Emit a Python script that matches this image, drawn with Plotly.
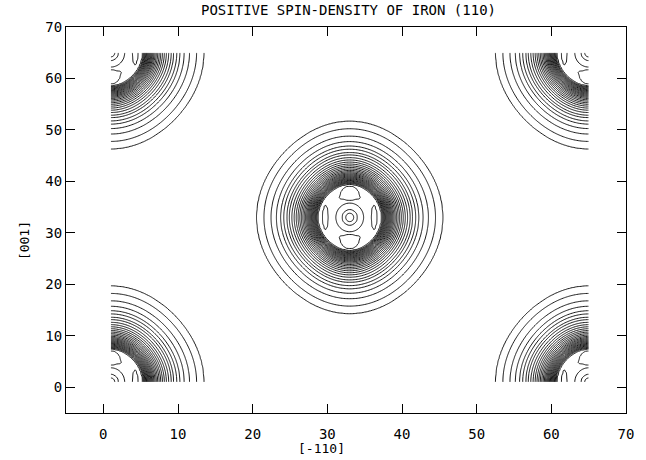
import numpy as np
import plotly.graph_objects as go

# ---- data ----
# Fe atom sites in the (110) map, in grid units ([-110], [001])
atom_x = [1, 65, 1, 65, 33]
atom_y = [1, 1, 65, 65, 33]
grid_lo, grid_hi, grid_step = 1, 65, 0.2
y_stretch = 1.5          # [001] units per [-110] unit for equal density

# radii of the main contour rings (in [-110] units), outermost first
ring_radii = [12.3, 11.35, 10.4, 9.7, 9.13, 8.73, 8.3, 8.0, 7.65, 7.35,
              7.08, 6.83, 6.6, 6.4, 6.2, 6.02, 5.85, 5.7, 5.56, 5.43,
              5.3, 5.18, 5.06, 4.95, 4.84, 4.73, 4.62, 4.52, 4.42, 4.32, 4.22]
ring_squareness = 0.012

# central peak: radii of its three small rings (innermost first)
core_radii = [0.55, 1.0, 1.85]
# half-moon maxima above/below the atom: base distance, height, half width
moon_base, moon_height, moon_halfwidth = 2.5, 1.6, 1.4
# lens maxima left/right of the atom: distance, half width, half height
lens_dist, lens_halfwidth, lens_halfheight = 3.25, 0.42, 1.6

x_ticks = [0, 10, 20, 30, 40, 50, 60, 70]
y_ticks = [0, 10, 20, 30, 40, 50, 60, 70]
title_text = "POSITIVE SPIN-DENSITY OF IRON (110)"
x_title = "[-110]"
y_title = "[001]"

# ---- build the density field ----
gx = np.arange(grid_lo, grid_hi + 1e-9, grid_step)
gy = np.arange(grid_lo, grid_hi + 1e-9, grid_step)
X, Y = np.meshgrid(gx, gy)

n_ring = len(ring_radii)
plateau = n_ring + 0.5
r_knots = [0.0, 4.0] + ring_radii[::-1] + [14.5]
v_knots = [plateau, plateau] + list(range(n_ring, 0, -1)) + [0.0]


def bump(h):
    return np.where(h >= 0, 0.5 + 0.5 * h, np.clip(0.5 + 2.0 * h, 0, None))


Z = np.zeros_like(X)
for ax_, ay_ in zip(atom_x, atom_y):
    dx = X - ax_
    dy = (Y - ay_) / y_stretch
    r = np.sqrt(dx ** 2 + dy ** 2)
    rs = np.maximum(r, 1e-9)
    c4 = np.where(r > 0, (dx ** 4 - 6 * dx ** 2 * dy ** 2 + dy ** 4) / rs ** 4, 1.0)
    rb = r * (1 - ring_squareness * c4)
    f = np.interp(rb, r_knots, v_knots)
    # central peak
    f = f + np.interp(r, [0.0] + core_radii + [2.4], [3.3, 2.5, 1.5, 0.5, 0.0])
    # half-moons
    for s in (1, -1):
        v = s * dy
        h = np.where(v >= moon_base,
                     1 - (dx / moon_halfwidth) ** 2 - ((v - moon_base) / moon_height) ** 2,
                     1 - (dx / moon_halfwidth) ** 2 - ((moon_base - v) / 0.25) ** 2)
        f = f + bump(h)
    # lenses
    for s in (1, -1):
        h = 1 - ((dx - s * lens_dist) / lens_halfwidth) ** 2 - (dy / lens_halfheight) ** 2
        f = f + bump(h)
    Z = Z + f

Z = np.round(Z, 3)

font_fam = "DejaVu Sans Mono, Liberation Mono, monospace"

fig = go.Figure()
fig.add_trace(go.Contour(
    x=gx, y=gy, z=Z,
    contours=dict(start=1, end=n_ring + 3, size=1, coloring="lines", showlabels=False),
    colorscale=[[0, "black"], [1, "black"]],
    showscale=False,
    line=dict(width=0.9, color="black"),
    hoverinfo="skip",
))

axis_common = dict(
    ticks="inside", ticklen=9, tickwidth=1, tickcolor="black",
    showline=True, linecolor="black", linewidth=1, mirror="ticks",
    showgrid=False, zeroline=False,
    tickfont=dict(family=font_fam, size=14, color="black"),
)
fig.update_xaxes(range=[-5, 70], tickvals=x_ticks, ticktext=[str(t) for t in x_ticks],
                 ticklabelstandoff=8, **axis_common)
fig.update_yaxes(range=[-5, 70], tickvals=y_ticks, ticktext=[str(t) for t in y_ticks],
                 ticklabelstandoff=0, **axis_common)

fig.add_annotation(text=title_text, xref="paper", yref="paper", x=0.505, y=1.045,
                   xanchor="center", yanchor="middle", showarrow=False,
                   font=dict(family=font_fam, size=14, color="black"))
fig.add_annotation(text=x_title, xref="paper", yref="paper", x=0.4555, y=-0.093,
                   xanchor="center", yanchor="middle", showarrow=False,
                   font=dict(family=font_fam, size=13, color="black"))
fig.add_annotation(text=y_title, xref="paper", yref="paper", x=-0.073, y=0.4456,
                   xanchor="center", yanchor="middle", textangle=-90, showarrow=False,
                   font=dict(family=font_fam, size=13, color="black"))

fig.update_layout(
    width=646, height=460,
    margin=dict(l=66, r=18, t=27, b=47),
    paper_bgcolor="white", plot_bgcolor="white",
    showlegend=False,
)

fig.write_html("out.html")
